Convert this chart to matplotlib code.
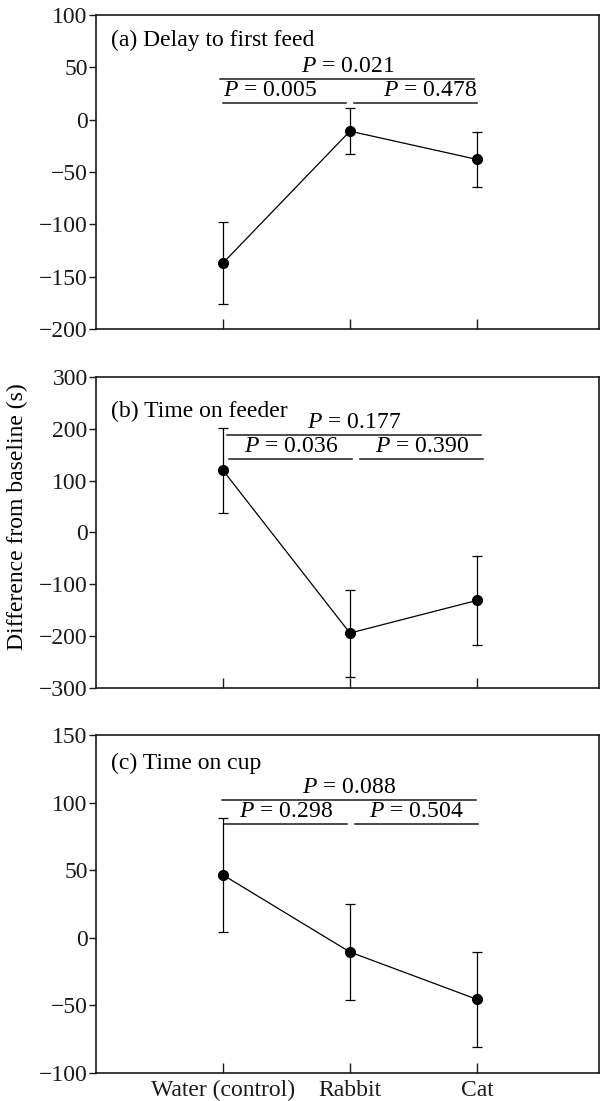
import matplotlib.pyplot as plt

plt.rcParams['font.family'] = ['Liberation Serif', 'DejaVu Serif']
plt.rcParams['mathtext.fontset'] = 'custom'
plt.rcParams['mathtext.rm'] = 'Liberation Serif'
plt.rcParams['mathtext.it'] = 'Liberation Serif:italic'

groups = ['Water (control)', 'Rabbit', 'Cat']
x = [1, 2, 3]

delay_mean = [-137, -11, -38]
delay_err = [39, 22, 26]
feeder_mean = [120, -194, -131]
feeder_err = [82, 84, 86]
cup_mean = [46.5, -10.5, -45.5]
cup_err = [42, 35.5, 35]

# p values: (water vs rabbit, rabbit vs cat, water vs cat)
delay_p = ['0.005', '0.478', '0.021']
feeder_p = ['0.036', '0.390', '0.177']
cup_p = ['0.298', '0.504', '0.088']

titles = ['(a) Delay to first feed', '(b) Time on feeder', '(c) Time on cup']

FS = 17
INK = '#1a1a1a'

fig = plt.figure(figsize=(6, 11.01), dpi=100)
boxes = [
    [0.16, 0.7012, 0.838, 0.2852],
    [0.16, 0.3751, 0.838, 0.2825],
    [0.16, 0.0254, 0.838, 0.3070],
]

panels = [
    dict(mean=delay_mean, err=delay_err, p=delay_p, ylim=(-200, 100), step=50,
         low=16, high=39, dx=0.0, align=('left', 'right'), ty=0.92),
    dict(mean=feeder_mean, err=feeder_err, p=feeder_p, ylim=(-300, 300), step=100,
         low=142, high=188, dx=0.05, align=('center', 'center'), ty=0.89),
    dict(mean=cup_mean, err=cup_err, p=cup_p, ylim=(-100, 150), step=50,
         low=84, high=102, dx=0.01, align=('center', 'center'), ty=0.917),
]

axes = []
for i, (box, pn) in enumerate(zip(boxes, panels)):
    ax = fig.add_axes(box)
    axes.append(ax)
    ax.errorbar(x, pn['mean'], yerr=pn['err'], color='black', lw=0.9,
                marker='o', ms=7, capsize=3.5, elinewidth=0.9, capthick=0.9)
    ax.set_xlim(0, 3.96)
    lo, hi = pn['ylim']
    ax.set_ylim(lo, hi)
    ax.set_yticks(range(lo, hi + 1, pn['step']))
    ax.set_yticklabels([str(v).replace('-', '\u2212') for v in range(lo, hi + 1, pn['step'])])
    ax.set_xticks(x)
    if i == 2:
        ax.set_xticklabels(groups)
    else:
        ax.set_xticklabels([])
    ax.tick_params(axis='x', direction='in', length=7, width=1, colors=INK,
                   labelsize=FS, pad=5)
    ax.tick_params(axis='y', direction='out', length=5, width=1, colors=INK,
                   labelsize=FS, pad=1)
    for s in ax.spines.values():
        s.set_linewidth(1.2)
        s.set_color(INK)

    ax.text(0.03, pn['ty'], titles[i], transform=ax.transAxes, fontsize=FS,
            va='center', ha='left')

    dx = pn['dx']
    yr = hi - lo
    pad = yr * 0.006
    # pairwise brackets
    segs = [(1.0 + dx, 1.97 + dx), (2.03 + dx, 3.0 + dx)]
    for j, (a, b) in enumerate(segs):
        ax.plot([a, b], [pn['low'], pn['low']], color=INK, lw=1.1)
        ha = pn['align'][j]
        tx = {'left': a, 'right': b, 'center': (a + b) / 2}[ha]
        ax.text(tx, pn['low'] + pad, r'$\mathit{P}$ = ' + pn['p'][j],
                fontsize=FS, ha=ha, va='bottom')
    a, b = 0.98 + dx, 2.98 + dx
    ax.plot([a, b], [pn['high'], pn['high']], color=INK, lw=1.1)
    ax.text((a + b) / 2, pn['high'] + pad, r'$\mathit{P}$ = ' + pn['p'][2],
            fontsize=FS, ha='center', va='bottom')

axes[1].set_ylabel('Difference from baseline (s)', fontsize=FS)
axes[1].yaxis.set_label_coords(-0.135, 0.55)

fig.savefig('out.png', dpi=100)
